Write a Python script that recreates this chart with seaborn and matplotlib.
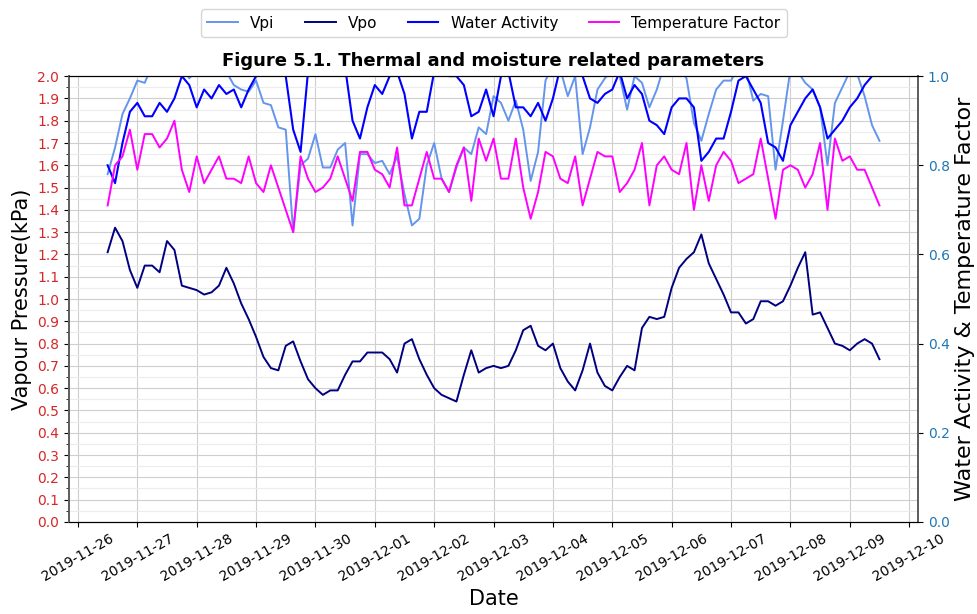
import pandas as pd
import numpy as np
import matplotlib
matplotlib.use("Agg")
import matplotlib.pyplot as plt
import matplotlib.dates as mdates
from matplotlib.ticker import MultipleLocator, FormatStrFormatter
import seaborn as sns

# ===================== data (3-hourly) =====================
start_time = "2019-11-26 12:00"
step = "3h"

vpi = [1.56, 1.68, 1.83, 1.90, 1.98, 1.97, 2.05, 2.06, 2.05, 2.04, 2.05, 1.99, 2.03, 2.05,
       2.03, 2.04, 2.02, 1.96, 1.94, 1.93, 1.98, 1.88, 1.87, 1.77, 1.76, 1.30, 1.60, 1.63,
       1.74, 1.59, 1.59, 1.67, 1.70, 1.33, 1.65, 1.65, 1.61, 1.62, 1.56, 1.64, 1.47, 1.33,
       1.36, 1.60, 1.70, 1.54, 1.48, 1.59, 1.68, 1.65, 1.77, 1.74, 1.91, 1.88, 1.80, 1.89,
       1.76, 1.53, 1.66, 1.98, 2.05, 2.03, 1.91, 2.00, 1.65, 1.77, 1.94, 1.99, 2.03, 2.00,
       1.85, 2.00, 1.97, 1.86, 1.94, 2.05, 2.06, 2.04, 1.99, 1.79, 1.71, 1.83, 1.94, 1.98,
       1.98, 2.04, 2.03, 1.89, 1.92, 1.91, 1.58, 1.80, 2.03, 2.02, 1.97, 1.94, 1.86, 1.60,
       1.88, 1.95, 2.02, 2.01, 1.91, 1.78, 1.71]

vpo = [1.21, 1.32, 1.26, 1.13, 1.05, 1.15, 1.15, 1.12, 1.26, 1.22, 1.06, 1.05, 1.04, 1.02,
       1.03, 1.06, 1.14, 1.07, 0.98, 0.91, 0.83, 0.74, 0.69, 0.68, 0.79, 0.81, 0.72, 0.64,
       0.60, 0.57, 0.59, 0.59, 0.66, 0.72, 0.72, 0.76, 0.76, 0.76, 0.73, 0.67, 0.80, 0.82,
       0.73, 0.66, 0.60, 0.57, 0.555, 0.54, 0.66, 0.77, 0.67, 0.69, 0.70, 0.69, 0.70, 0.77,
       0.86, 0.88, 0.79, 0.77, 0.80, 0.69, 0.63, 0.59, 0.68, 0.80, 0.67, 0.61, 0.59, 0.65,
       0.70, 0.68, 0.87, 0.92, 0.91, 0.92, 1.05, 1.14, 1.18, 1.21, 1.29, 1.16, 1.09, 1.02,
       0.94, 0.94, 0.89, 0.91, 0.99, 0.99, 0.97, 0.99, 1.06, 1.14, 1.21, 0.93, 0.94, 0.87,
       0.80, 0.79, 0.77, 0.80, 0.82, 0.80, 0.73]

water_activity = [0.80, 0.76, 0.85, 0.92, 0.94, 0.91, 0.91, 0.94, 0.92, 0.95, 1.00, 0.98, 0.93, 0.97,
                  0.95, 0.98, 0.96, 0.97, 0.93, 0.97, 1.00, 1.02, 1.01, 1.02, 1.00, 0.88, 0.83, 1.01,
                  1.00, 1.02, 1.02, 1.00, 1.02, 0.90, 0.86, 0.93, 0.98, 0.96, 1.00, 1.01, 0.96, 0.86,
                  0.92, 0.92, 1.01, 1.02, 1.00, 1.00, 0.98, 0.91, 0.92, 0.97, 0.91, 1.00, 1.01, 0.93,
                  0.93, 0.91, 0.94, 0.90, 0.95, 1.02, 1.01, 1.01, 1.00, 0.95, 0.94, 0.96, 0.97, 1.01,
                  0.95, 0.98, 0.96, 0.90, 0.89, 0.87, 0.93, 0.95, 0.95, 0.93, 0.81, 0.83, 0.86, 0.86,
                  0.92, 0.99, 1.00, 0.97, 0.94, 0.85, 0.84, 0.81, 0.89, 0.92, 0.95, 0.97, 0.93, 0.86,
                  0.88, 0.90, 0.93, 0.95, 0.98, 1.00, 1.01]

temp_factor = [0.71, 0.80, 0.82, 0.88, 0.79, 0.87, 0.87, 0.84, 0.86, 0.90, 0.79, 0.74, 0.82, 0.76,
               0.79, 0.82, 0.77, 0.77, 0.76, 0.82, 0.76, 0.74, 0.80, 0.75, 0.70, 0.65, 0.82, 0.77,
               0.74, 0.75, 0.77, 0.82, 0.77, 0.72, 0.83, 0.83, 0.79, 0.78, 0.75, 0.84, 0.71, 0.71,
               0.77, 0.83, 0.77, 0.77, 0.74, 0.80, 0.84, 0.72, 0.86, 0.81, 0.86, 0.77, 0.77, 0.86,
               0.75, 0.68, 0.74, 0.83, 0.82, 0.77, 0.76, 0.82, 0.71, 0.77, 0.83, 0.82, 0.82, 0.74,
               0.76, 0.79, 0.85, 0.71, 0.80, 0.82, 0.79, 0.78, 0.85, 0.70, 0.80, 0.72, 0.80, 0.83,
               0.81, 0.76, 0.77, 0.78, 0.86, 0.77, 0.68, 0.79, 0.80, 0.79, 0.75, 0.78, 0.85, 0.70,
               0.86, 0.81, 0.82, 0.79, 0.79, 0.75, 0.71]

dates = pd.date_range(start_time, periods=len(vpo), freq=step)
df = pd.DataFrame({"Date": dates, "Vpi": vpi, "Vpo": vpo,
                   "Water Activity": water_activity, "Temperature Factor": temp_factor})

# ===================== plot =====================
plt.rcParams['font.family'] = ['DejaVu Sans']
fig = plt.figure(figsize=(9.78, 6.14), dpi=100)
ax1 = fig.add_axes([0.0706, 0.150, 0.8681, 0.726])
ax2 = ax1.twinx()

sns.lineplot(data=df, x="Date", y="Vpi", ax=ax1, color="cornflowerblue", lw=1.4, label="Vpi")
sns.lineplot(data=df, x="Date", y="Vpo", ax=ax1, color="navy", lw=1.4, label="Vpo")
sns.lineplot(data=df, x="Date", y="Water Activity", ax=ax2, color="blue", lw=1.5, label="Water Activity")
sns.lineplot(data=df, x="Date", y="Temperature Factor", ax=ax2, color="magenta", lw=1.4,
             label="Temperature Factor")

h1, l1 = ax1.get_legend_handles_labels()
h2, l2 = ax2.get_legend_handles_labels()
ax1.get_legend().remove()
ax2.get_legend().remove()
fig.legend(h1 + h2, l1 + l2, loc="upper center", ncol=4, bbox_to_anchor=(0.505, 0.997),
           fontsize=11)

# left axis
ax1.set_ylim(0, 2.0)
ax1.yaxis.set_major_locator(MultipleLocator(0.1))
ax1.yaxis.set_minor_locator(MultipleLocator(0.05))
ax1.yaxis.set_major_formatter(FormatStrFormatter('%.1f'))
ax1.tick_params(axis='y', which='both', labelcolor='tab:red', labelsize=10)
ax1.set_ylabel("Vapour Pressure(kPa)", fontsize=15)

# right axis
ax2.set_ylim(0, 1.0)
ax2.yaxis.set_major_locator(MultipleLocator(0.2))
ax2.yaxis.set_major_formatter(FormatStrFormatter('%.1f'))
ax2.tick_params(axis='y', labelcolor='tab:blue', labelsize=10)
ax2.set_ylabel("Water Activity & Temperature Factor", fontsize=16)
ax2.grid(False)

# date axis
ax1.xaxis.set_major_locator(mdates.DayLocator())
ax1.xaxis.set_major_formatter(mdates.DateFormatter('%Y-%m-%d'))
ax1.tick_params(axis='x', labelsize=10, rotation=30)
ax1.set_xlabel("Date", fontsize=15)

# grid
ax1.set_axisbelow(True)
ax1.grid(which='major', color='#cfcfcf', lw=0.8)
ax1.grid(which='minor', axis='y', color='#ececec', lw=0.8)

for ax in (ax1, ax2):
    ax.spines['left'].set_color('#606060')
    ax.spines['right'].set_color('#606060')
    ax.spines['left'].set_linewidth(1.4)
    ax.spines['right'].set_linewidth(1.4)

ax1.set_title("Figure 5.1. Thermal and moisture related parameters",
              fontsize=13, fontweight='bold', pad=7)

fig.savefig("out.png", dpi=100)
